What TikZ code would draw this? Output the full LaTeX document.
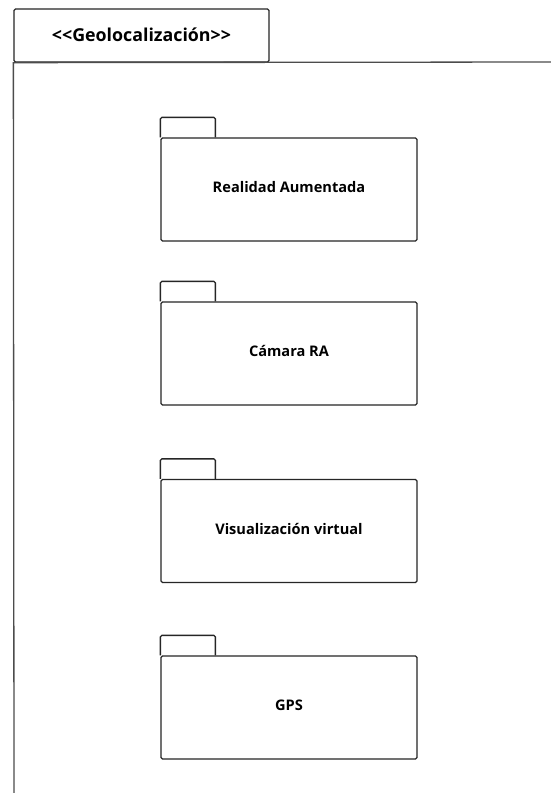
\documentclass[tikz,border=0pt]{standalone}
\usepackage{fontspec}
\setmainfont{Open Sans}
\tikzset{
  outline/.style={draw=black!85, line width=1.3pt},
  pkgbody/.style={outline, rounded corners=1.5pt, minimum width=256pt,
    minimum height=103pt, inner sep=0pt, fill=white, text depth=5pt,
    font=\bfseries\fontsize{14.6}{17}\selectfont},
  pkgtab/.style={outline, rounded corners=1.5pt},
  titletab/.style={outline, rounded corners=1.5pt, minimum width=255pt,
    minimum height=53pt, inner sep=0pt, text depth=2pt,
    font=\bfseries\fontsize{17.8}{20}\selectfont},
  frameline/.style={draw=black!70, line width=1.3pt}
}
\begin{document}
\begin{tikzpicture}[x=1pt,y=-1pt]
  \useasboundingbox[fill=white] (0,0) rectangle (550,793);

  % package frame: name tab, top edge and left edge
  \node[titletab] (title) at (141.5,35.5) {{<}{<}Geolocalización{>}{>}};
  \coordinate (frameR) at (552,62);
  \coordinate (frameB) at (14,795);
  \draw[frameline] (frameB) -- (title.south west) -- (frameR);

  % contained packages
  \node[pkgbody] (ra)  at (289,189.5) {Realidad Aumentada};
  \node[pkgbody] (cam) at (289,353.5) {Cámara RA};
  \node[pkgbody] (vis) at (289,531)   {Visualización virtual};
  \node[pkgbody] (gps) at (289,707.5) {GPS};

  \foreach \p in {ra,cam,vis,gps}
    \draw[pkgtab] (\p.north west) -- ++(0,-20) -- ++(55,0) -- ++(0,20);
\end{tikzpicture}
\end{document}
